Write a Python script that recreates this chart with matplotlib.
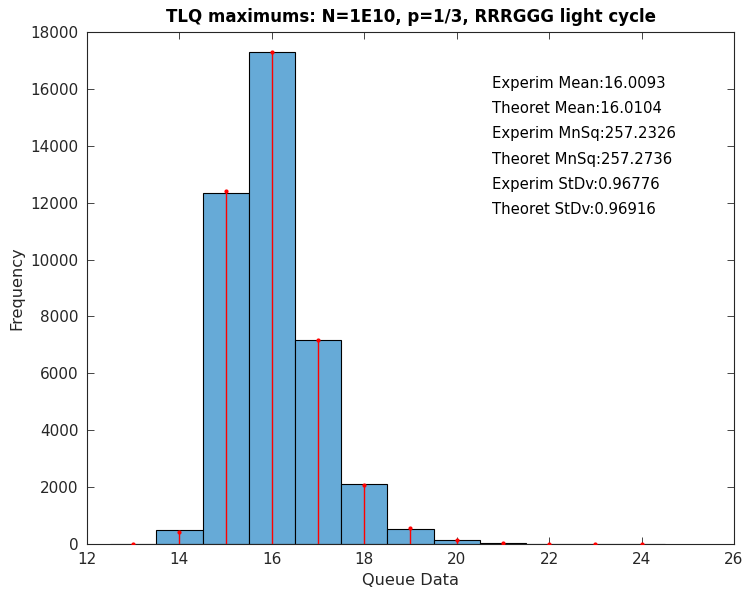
import matplotlib
matplotlib.use("Agg")
import matplotlib.pyplot as plt

# histogram bins (queue length) and observed counts
bin_centers = [13, 14, 15, 16, 17, 18, 19, 20, 21, 22, 23, 24]
experim_counts = [12, 475, 12330, 17300, 7170, 2105, 530, 135, 38, 12, 5, 3]
# theoretical expectation drawn as red stems
theoret_counts = [10, 420, 12400, 17300, 7170, 2090, 545, 140, 40, 11, 4, 2]

stats_lines = [
    "Experim Mean:16.0093",
    "Theoret Mean:16.0104",
    "Experim MnSq:257.2326",
    "Theoret MnSq:257.2736",
    "Experim StDv:0.96776",
    "Theoret StDv:0.96916",
]

TEXT_COLOR = "#262626"
BAR_COLOR = (0.4, 0.668, 0.845)

fig = plt.figure(figsize=(7.47, 5.94), dpi=100)
ax = fig.add_axes([87 / 747, 1 - 544 / 594, (734 - 87) / 747, (544 - 32) / 594])

ax.bar(bin_centers, experim_counts, width=1.0, color=BAR_COLOR,
       edgecolor="black", linewidth=0.8, zorder=2)

# red stems for the theoretical values
ax.vlines(bin_centers, 0, theoret_counts, color="red", linewidth=1.0, zorder=3)
ax.plot(bin_centers, theoret_counts, "o", color="red", markersize=2.0, zorder=4)

ax.set_xlim(12, 26)
ax.set_ylim(0, 18000)
ax.set_xticks(range(12, 27, 2))
ax.set_yticks(range(0, 18001, 2000))

ax.tick_params(direction="in", top=True, right=True, length=5, width=0.6,
               labelsize=11, colors=TEXT_COLOR, pad=6)
for spine in ax.spines.values():
    spine.set_color(TEXT_COLOR)
    spine.set_linewidth(0.8)

ax.set_xlabel("Queue Data", fontsize=11.6, color=TEXT_COLOR, labelpad=4)
ax.set_ylabel("Frequency", fontsize=11.6, color=TEXT_COLOR, labelpad=4)
ax.set_title("TLQ maximums: N=1E10, p=1/3, RRRGGG light cycle",
             fontsize=12, fontweight="bold", color="black", pad=7)

# summary statistics in the upper right
for i, line in enumerate(stats_lines):
    ax.text(20.77, 16200 - i * 890, line, fontsize=10.7, color="black",
            va="center", ha="left")

fig.savefig("out.png", dpi=100)
